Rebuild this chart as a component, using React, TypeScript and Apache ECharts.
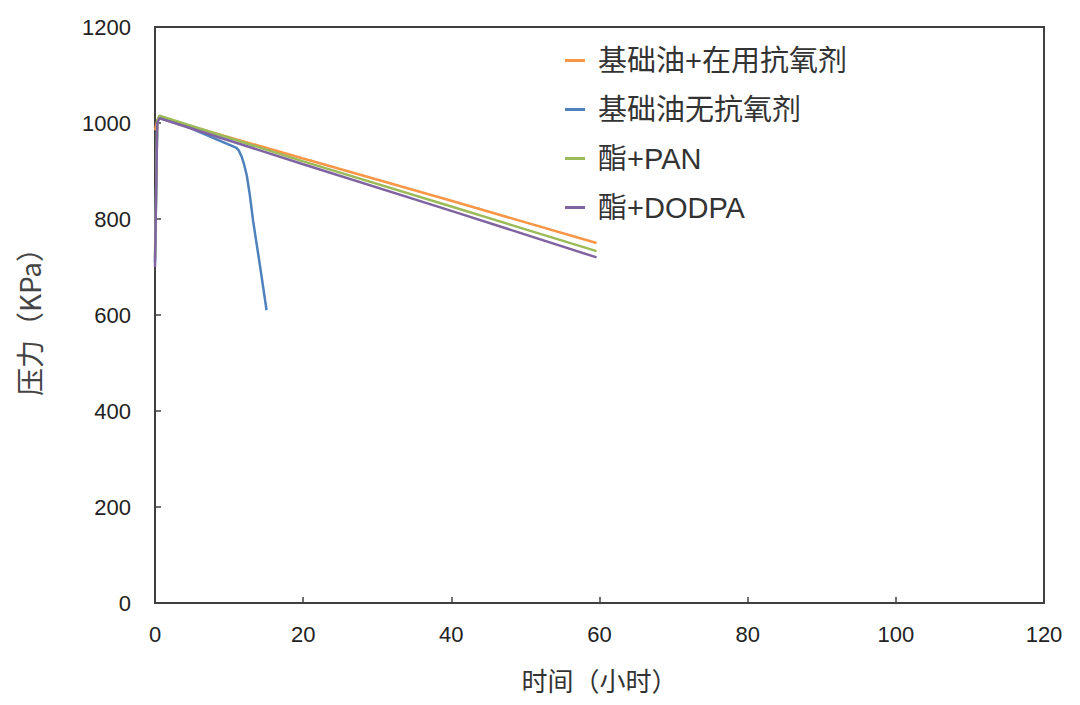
import React, { useEffect, useRef } from "react";
import * as echarts from "echarts";

const seriesNames = ["基础油+在用抗氧剂", "基础油无抗氧剂", "酯+PAN", "酯+DODPA"];
const seriesColors = ["#F79646", "#4F81BD", "#9BBB59", "#8064A2"];

const orangeData: [number, number][] = [[0, 985], [0.3, 1005], [0.6, 1012], [20, 926], [40, 838], [59.6, 750]];
const blueData: [number, number][] = [[0, 710], [0.3, 1000], [0.6, 1015], [5, 988], [11, 948], [11.3, 943], [11.7, 930], [12, 915], [12.4, 890], [12.8, 850], [13.25, 795], [13.7, 750], [14.16, 704], [14.6, 658], [15.06, 610]];
const greenData: [number, number][] = [[0, 720], [0.3, 1005], [0.6, 1015], [20, 920], [40, 826], [59.6, 733]];
const purpleData: [number, number][] = [[0, 700], [0.3, 1000], [0.6, 1010], [20, 914], [40, 817], [59.6, 720]];

const allData = [orangeData, blueData, greenData, purpleData];

export default function App() {
  const ref = useRef<HTMLDivElement>(null);
  useEffect(() => {
    if (!ref.current) return;
    const chart = echarts.init(ref.current, null, { renderer: "svg" });
    const font = "'Liberation Sans', Arial, 'Noto Sans CJK SC', sans-serif";
    chart.setOption({
      animation: false,
      backgroundColor: "#ffffff",
      grid: {
        left: 147,
        top: 19,
        right: 28,
        bottom: 94,
        show: true,
        borderColor: "#404040",
        borderWidth: 2,
        containLabel: false,
        outerBoundsMode: "none",
      },
      legend: {
        orient: "vertical",
        left: 552,
        top: 33,
        itemGap: 20,
        itemWidth: 20,
        itemHeight: 3,
        icon: "rect",
        data: seriesNames,
        textStyle: {
          fontSize: 29,
          color: "#333333",
          fontFamily: font,
          padding: [0, 0, 0, 8],
        },
      },
      xAxis: {
        type: "value",
        min: 0,
        max: 120,
        interval: 20,
        name: "时间（小时）",
        nameLocation: "middle",
        nameGap: 63,
        nameTextStyle: { fontSize: 26, color: "#333333", fontFamily: "'Noto Sans CJK SC', sans-serif" },
        axisLine: { show: true, lineStyle: { color: "#404040", width: 2 } },
        axisTick: { show: true, inside: true, length: 6, lineStyle: { color: "#404040", width: 1.5 } },
        axisLabel: { fontSize: 22, color: "#222222", margin: 20, fontFamily: font, formatter: (v: number) => String(v) },
        splitLine: { show: false },
      },
      yAxis: {
        type: "value",
        min: 0,
        max: 1200,
        interval: 200,
        name: "压力（KPa）",
        nameLocation: "middle",
        nameGap: 112,
        nameTextStyle: { fontSize: 28, color: "#444444", fontFamily: "'Noto Sans CJK SC', sans-serif" },
        axisLine: { show: true, lineStyle: { color: "#404040", width: 2 } },
        axisTick: { show: true, inside: true, length: 6, lineStyle: { color: "#404040", width: 1.5 } },
        axisLabel: { fontSize: 22, color: "#222222", margin: 24, fontFamily: font, formatter: (v: number) => String(v) },
        splitLine: { show: false },
      },
      series: seriesNames.map((name, i) => ({
        name,
        type: "line",
        data: allData[i],
        showSymbol: false,
        symbol: "none",
        smooth: false,
        lineStyle: { color: seriesColors[i], width: 2.5 },
        itemStyle: { color: seriesColors[i] },
      })),
    });
    return () => chart.dispose();
  }, []);
  return <div ref={ref} style={{ width: 1064, height: 689 }} />;
}
